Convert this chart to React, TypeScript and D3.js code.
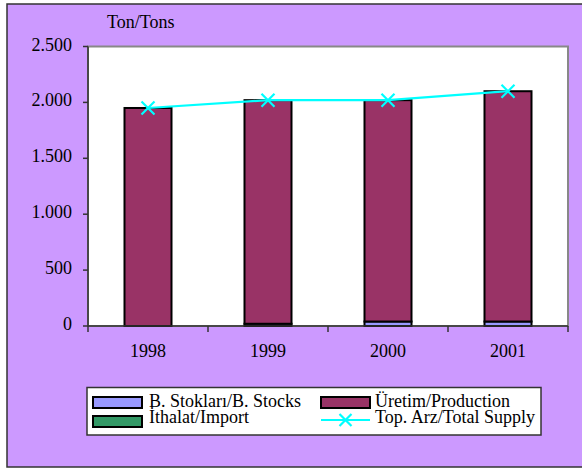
import React from "react";
import * as d3 from "d3";

const years = ["1998", "1999", "2000", "2001"];
const stocks = [0, 20, 40, 40];
const production = [1950, 2000, 1980, 2060];
const imports = [0, 0, 0, 0];
const totalSupply = [1950, 2020, 2020, 2100];
const yTicks = [0, 500, 1000, 1500, 2000, 2500];

const seriesNames = ["B. Stokları/B. Stocks", "Üretim/Production", "İthalat/Import", "Top. Arz/Total Supply"];
const colors = { stocks: "#9999FF", production: "#993366", imports: "#339966", line: "#00FFFF" };

const fmt = (v: number) => d3.format(",")(v).replace(/,/g, ".");

export default function App() {
  const W = 582, H = 468;
  const L = 88, R = 568, T = 46.5, B = 326;
  const x = d3.scaleBand().domain(years).range([L, R]).paddingInner(0.6).paddingOuter(0.3);
  const xc = (d: string) => (x(d) as number) + x.bandwidth() / 2;
  const y = d3.scaleLinear().domain([0, 2500]).range([B, T]);
  const bw = 47;
  const font = "Liberation Serif, Times New Roman, DejaVu Serif, serif";
  const ts: React.CSSProperties = { fontFamily: font, fontSize: 18 };

  const stackData = years.map((yr, i) => ({ yr, stocks: stocks[i], production: production[i], imports: imports[i] }));
  const stack = d3.stack<any>().keys(["stocks", "production", "imports"])(stackData);

  const line = d3.line<number>().x((_, i) => xc(years[i])).y((v) => y(v));
  const cross = (cx: number, cy: number, s = 6.5, key?: any) => (
    <path key={key} d={`M${cx - s},${cy - s}L${cx + s},${cy + s}M${cx - s},${cy + s}L${cx + s},${cy - s}`} stroke={colors.line} strokeWidth={2.2} fill="none" />
  );

  const catEdges = years.map((_, i) => L + (i * (R - L)) / years.length).concat([R]);

  return (
    <svg width={W} height={H} style={{ position: "absolute", left: 0, top: 0, background: "#fff" }}>
      <rect x={7} y={4} width={600} height={463} fill="#CC99FF" stroke="#333" strokeWidth={1.5} />
      <rect x={L} y={T} width={R - L} height={B - T} fill="#fff" stroke="#888" strokeWidth={2} />
      <text x={107} y={28} style={ts} fill="#000">Ton/Tons</text>
      {stack.map((s) =>
        s.map((d, i) => {
          const h = y(d[0]) - y(d[1]);
          if (h <= 0) return null;
          return (
            <rect key={s.key + i} x={xc(years[i]) - bw / 2} y={y(d[1])} width={bw} height={h}
              fill={(colors as any)[s.key]} stroke="#000" strokeWidth={2} />
          );
        })
      )}
      <line x1={L} x2={L} y1={T} y2={B} stroke="#333" strokeWidth={1.5} />
      <line x1={L} x2={R} y1={B} y2={B} stroke="#333" strokeWidth={1.5} />
      {yTicks.map((t) => (
        <g key={t}>
          <line x1={L - 5} x2={L} y1={y(t)} y2={y(t)} stroke="#333" strokeWidth={1.5} />
          <text x={72} y={y(t) + 4} textAnchor="end" style={ts}>{fmt(t)}</text>
        </g>
      ))}
      {catEdges.map((e, i) => (
        <line key={i} x1={e} x2={e} y1={B} y2={B + 6} stroke="#333" strokeWidth={1.5} />
      ))}
      {years.map((yr) => (
        <text key={yr} x={xc(yr)} y={357} textAnchor="middle" style={ts}>{yr}</text>
      ))}
      <path d={line(totalSupply) as string} fill="none" stroke={colors.line} strokeWidth={2.2} />
      {totalSupply.map((v, i) => cross(xc(years[i]), y(v), 6.5, i))}

      <rect x={87} y={387.5} width={454} height={47.5} fill="#fff" stroke="#333" strokeWidth={1.5} />
      <rect x={93} y={397} width={49} height={11} fill={colors.stocks} stroke="#000" strokeWidth={2} />
      <text x={149} y={406.5} style={ts}>{seriesNames[0]}</text>
      <rect x={93} y={416} width={49} height={11} fill={colors.imports} stroke="#000" strokeWidth={2} />
      <text x={149} y={423} style={ts}>{seriesNames[2]}</text>
      <rect x={321} y={397} width={49} height={11} fill={colors.production} stroke="#000" strokeWidth={2} />
      <text x={375} y={406.5} style={ts}>{seriesNames[1]}</text>
      <line x1={321} x2={370} y1={420} y2={420} stroke={colors.line} strokeWidth={2.2} />
      {cross(345.5, 420, 6)}
      <text x={375} y={423} style={ts}>{seriesNames[3]}</text>
    </svg>
  );
}
